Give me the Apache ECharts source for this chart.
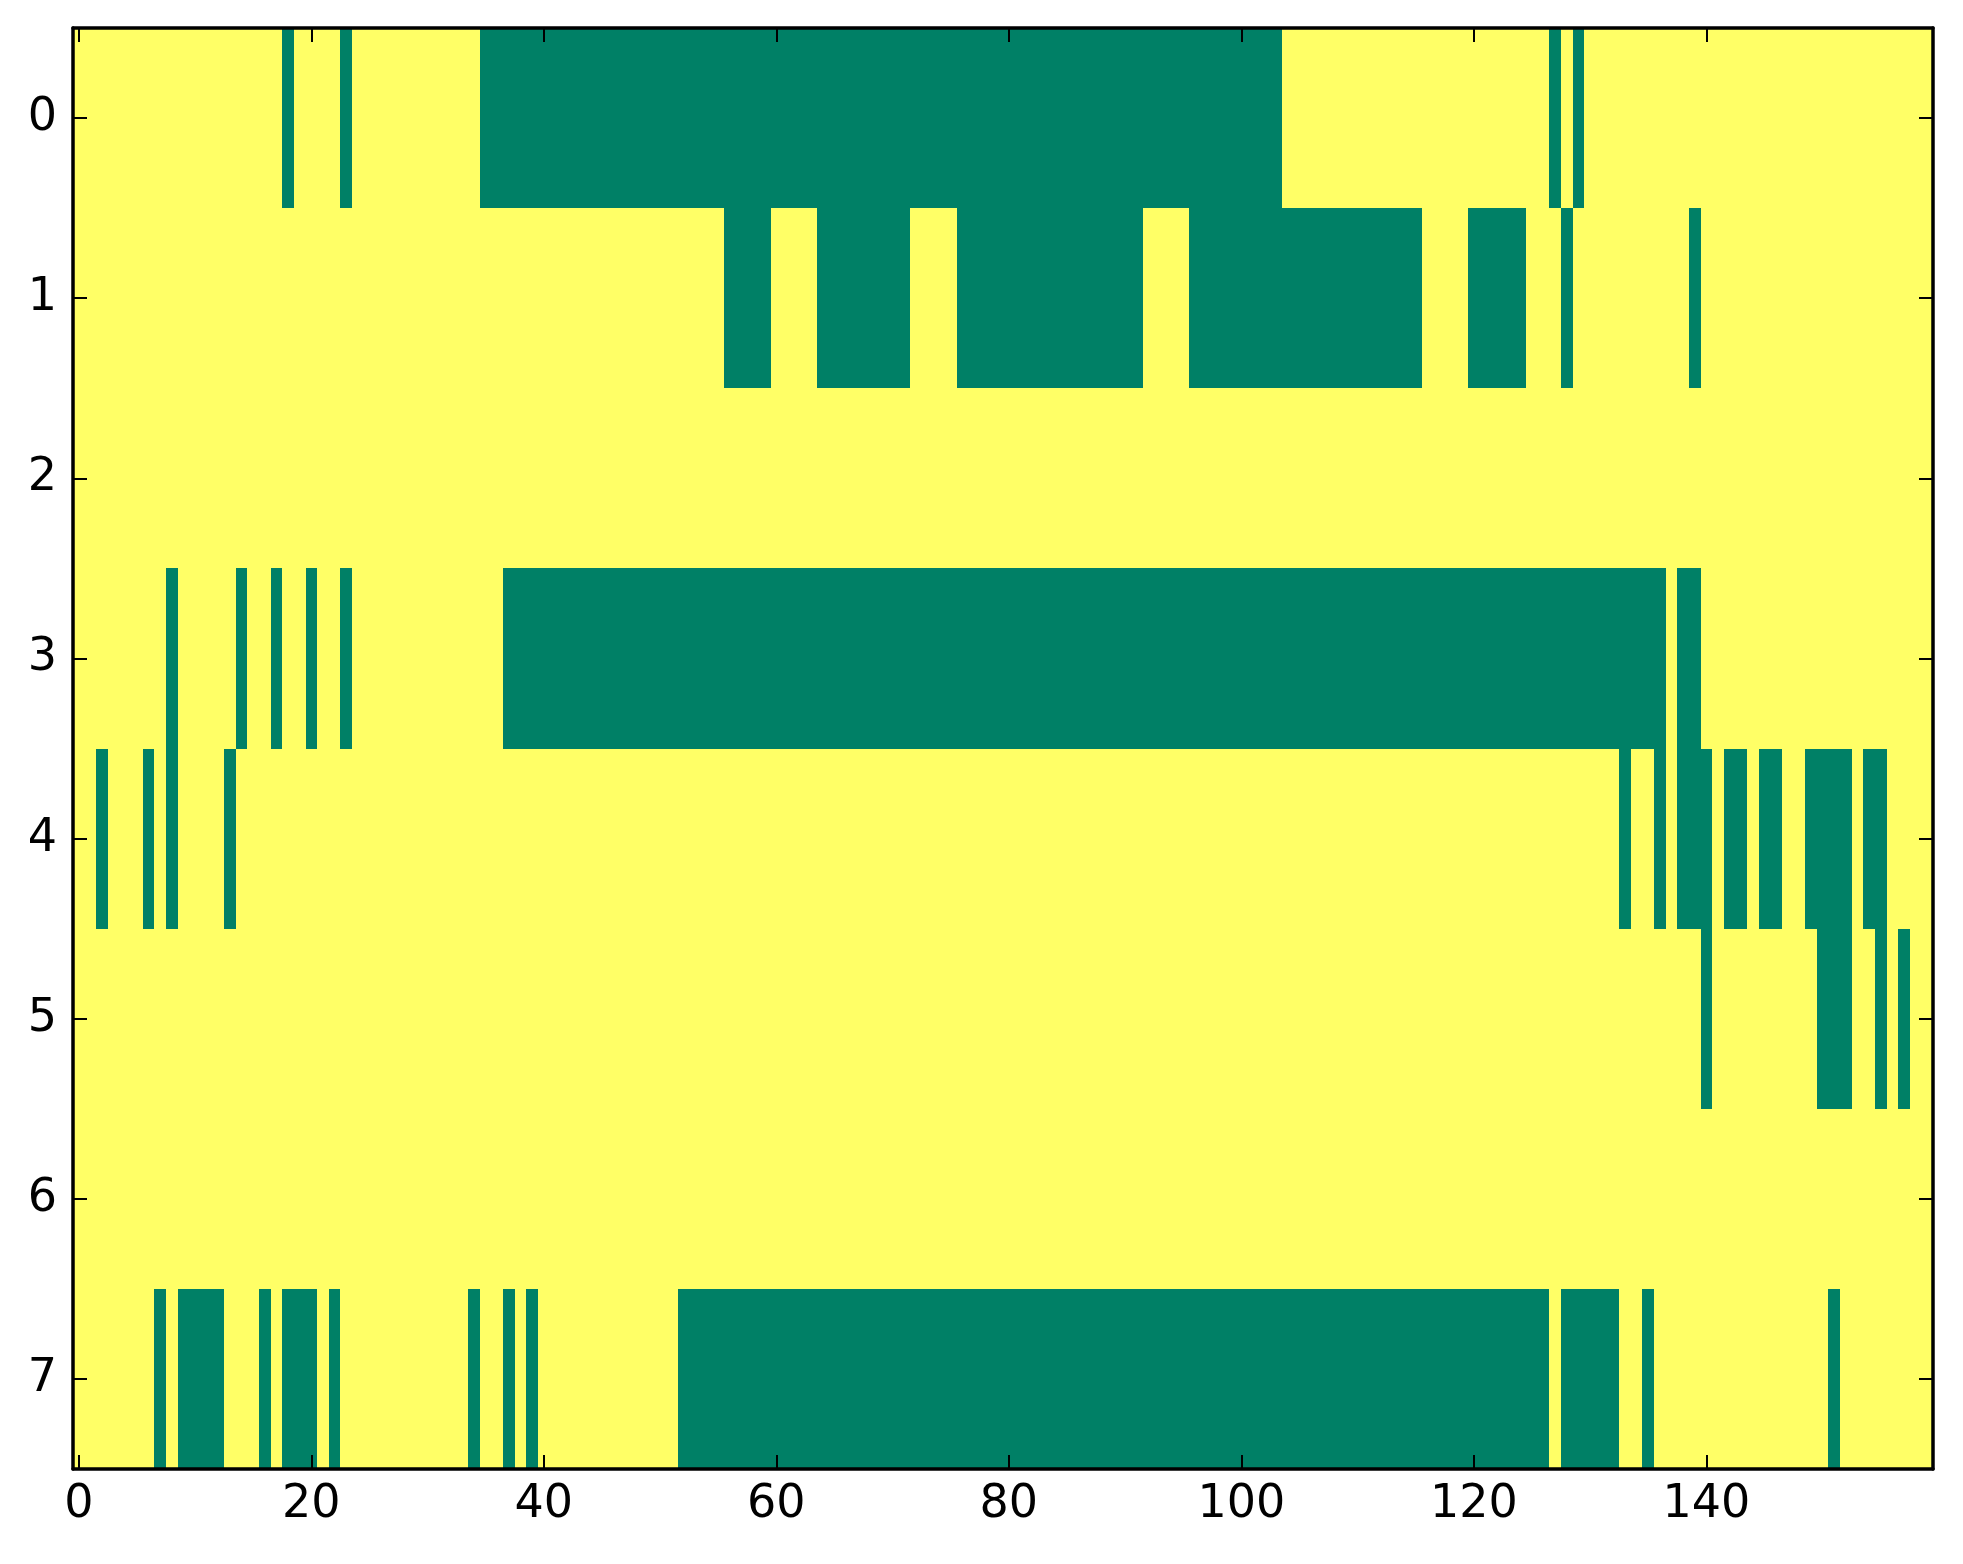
<!DOCTYPE html>
<html>
<head>
<meta charset="utf-8">
<script src="https://cdn.jsdelivr.net/npm/echarts@6/dist/echarts.min.js"></script>
<style>
html, body { margin: 0; padding: 0; background: #ffffff; }
#chart { width: 1963px; height: 1564px; }
</style>
</head>
<body>
<div id="chart"></div>
<script>
// Number of columns and row labels
var nCols = 160;
var rowLabels = ['0', '1', '2', '3', '4', '5', '6', '7'];
var xTickLabels = ['0', '20', '40', '60', '80', '100', '120', '140'];

// Cells with value 0 (green) per row, as inclusive column ranges; all other cells are 1 (yellow)
var row0Low = [[18, 18], [23, 23], [35, 103], [127, 127], [129, 129]];
var row1Low = [[56, 59], [64, 71], [76, 91], [96, 115], [120, 124], [128, 128], [139, 139]];
var row2Low = [];
var row3Low = [[8, 8], [14, 14], [17, 17], [20, 20], [23, 23], [37, 136], [138, 139]];
var row4Low = [[2, 2], [6, 6], [8, 8], [13, 13], [133, 133], [136, 136], [138, 140], [142, 143], [145, 146], [149, 152], [154, 155]];
var row5Low = [[140, 140], [150, 152], [155, 155], [157, 157]];
var row6Low = [];
var row7Low = [[7, 7], [9, 12], [16, 16], [18, 20], [22, 22], [34, 34], [37, 37], [39, 39], [52, 126], [128, 132], [135, 135], [151, 151]];

var rowsLow = [row0Low, row1Low, row2Low, row3Low, row4Low, row5Low, row6Low, row7Low];

var xCats = [];
for (var i = 0; i < nCols; i++) xCats.push(String(i));

// Expand to per-cell values, then group consecutive equal cells of a row into runs
// run item: [startCol, endCol, row, value]
var runs = [];
for (var r = 0; r < rowsLow.length; r++) {
  var rowVals = [];
  for (var c = 0; c < nCols; c++) rowVals.push(1);
  rowsLow[r].forEach(function (rg) {
    for (var c2 = rg[0]; c2 <= rg[1]; c2++) rowVals[c2] = 0;
  });
  var start = 0;
  for (var c3 = 1; c3 <= nCols; c3++) {
    if (c3 === nCols || rowVals[c3] !== rowVals[start]) {
      runs.push([start, c3 - 1, r, rowVals[start]]);
      start = c3;
    }
  }
}

var FONT = 'DejaVu Sans';
var FS = 46;
var tickShow = function (idx, val) { return xTickLabels.indexOf(val) >= 0; };

function xAxisDef(pos, showLabel) {
  return {
    type: 'category',
    data: xCats,
    position: pos,
    boundaryGap: true,
    z: 10,
    axisLine: { show: true, onZero: false, lineStyle: { color: '#000', width: 3.5 } },
    axisTick: { show: true, inside: true, length: 14, alignWithLabel: true, interval: tickShow, lineStyle: { color: '#000', width: 2 } },
    axisLabel: { show: showLabel, interval: tickShow, fontSize: FS, fontFamily: FONT, color: '#000', margin: 13 },
    splitLine: { show: false }
  };
}
function yAxisDef(pos, showLabel) {
  return {
    type: 'category',
    data: rowLabels,
    position: pos,
    inverse: true,
    boundaryGap: true,
    z: 10,
    axisLine: { show: true, onZero: false, lineStyle: { color: '#000', width: 3.5 } },
    axisTick: { show: true, inside: true, length: 14, alignWithLabel: true, lineStyle: { color: '#000', width: 2 } },
    axisLabel: { show: showLabel, fontSize: FS, fontFamily: FONT, color: '#000', margin: 16 },
    splitLine: { show: false }
  };
}

function renderRun(params, api) {
  var s = api.value(0), e = api.value(1), row = api.value(2);
  var p0 = api.coord([s, row]);
  var p1 = api.coord([e, row]);
  var sz = api.size([1, 1]);
  var x0 = Math.round(p0[0] - sz[0] / 2);
  var x1 = Math.round(p1[0] + sz[0] / 2);
  var y0 = Math.round(p0[1] - sz[1] / 2);
  var y1 = Math.round(p0[1] + sz[1] / 2);
  return {
    type: 'rect',
    shape: { x: x0, y: y0, width: x1 - x0, height: y1 - y0 },
    style: { fill: api.visual('color'), stroke: null }
  };
}

var chart = echarts.init(document.getElementById('chart'), null, { renderer: 'canvas' });
chart.setOption({
  backgroundColor: '#ffffff',
  animation: false,
  grid: { left: 73, right: 30, top: 28, bottom: 95, containLabel: false },
  xAxis: [xAxisDef('bottom', true), xAxisDef('top', false)],
  yAxis: [yAxisDef('left', true), yAxisDef('right', false)],
  visualMap: {
    type: 'piecewise',
    show: false,
    dimension: 3,
    seriesIndex: 0,
    pieces: [
      { value: 0, color: '#008066' },
      { value: 1, color: '#ffff66' }
    ]
  },
  series: [{
    type: 'custom',
    xAxisIndex: 0,
    yAxisIndex: 0,
    data: runs,
    encode: { x: [0, 1], y: 2 },
    renderItem: renderRun,
    silent: true,
    clip: true
  }]
});
</script>
</body>
</html>
